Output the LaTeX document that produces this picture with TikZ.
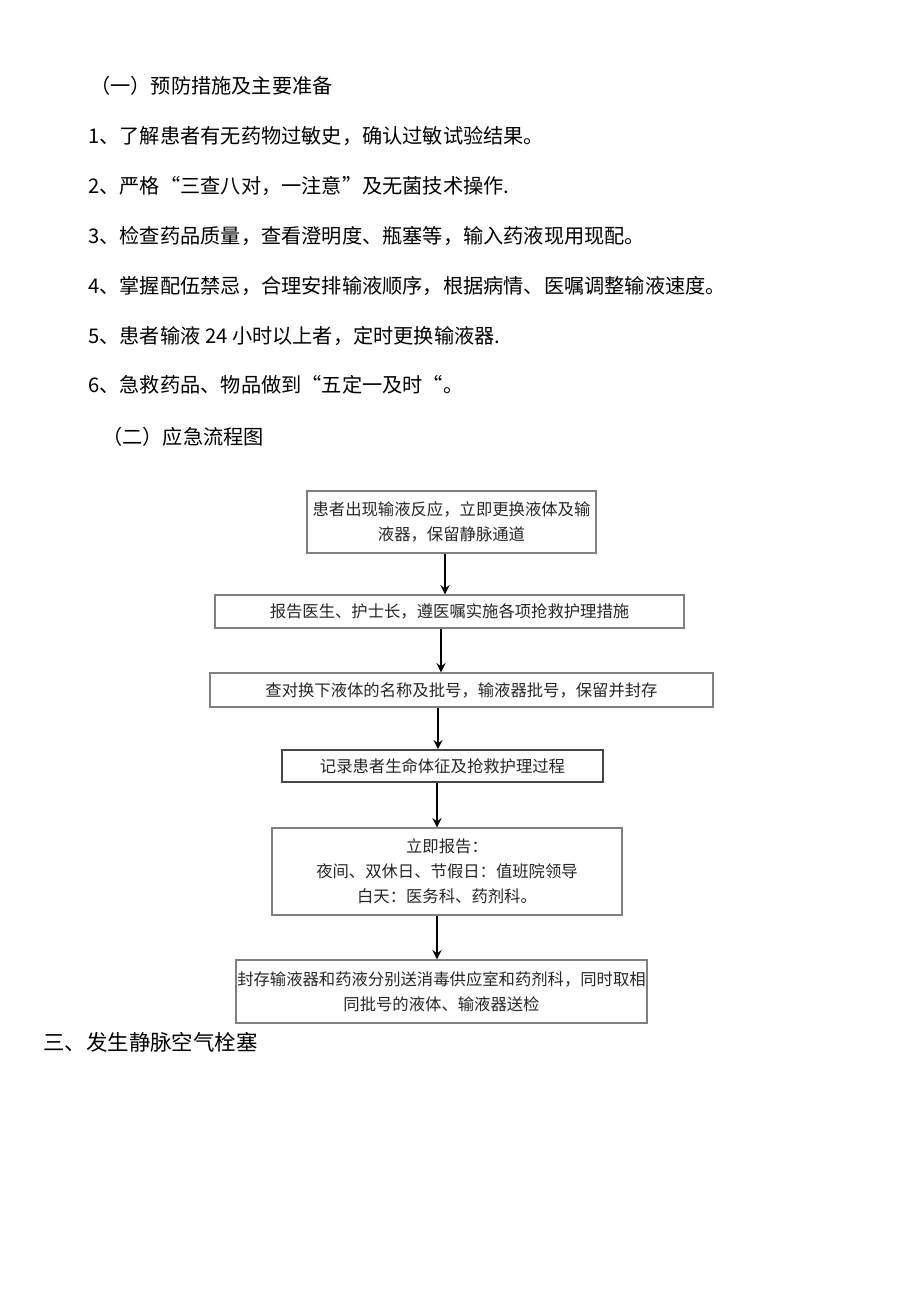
\documentclass[tikz,border=0pt]{standalone}
\usepackage{fontspec}
\setmainfont{Noto Sans CJK SC}
\usepackage{tikz}
\usepackage{xcolor}
\definecolor{boxgray}{RGB}{128,128,128}
\definecolor{boxdark}{RGB}{70,70,70}
\tikzset{%
    para/.style={anchor=west, inner sep=0pt, font=\fontsize{11.5pt}{13pt}\selectfont},
    stepbox/.style={draw=boxgray, line width=0.8pt, inner sep=0pt, align=center,
        text=black!85, font=\fontsize{9.3pt}{14.2pt}\selectfont},
    flow/.style={->, >=stealth, line width=1.3pt}
}

\begin{document}
\begin{tikzpicture}[x=0.02cm, y=-0.02cm]
    \useasboundingbox (0,0) rectangle (920,1301);
    \node[para] (h1) at (90,86) {（一）预防措施及主要准备};
    \node[para] (p1) at (88,136) {1、了解患者有无药物过敏史，确认过敏试验结果。};
    \node[para] (p2) at (88,186) {2、严格“三查八对，一注意”及无菌技术操作.};
    \node[para] (p3) at (88,236) {3、检查药品质量，查看澄明度、瓶塞等，输入药液现用现配。};
    \node[para] (p4) at (88,286) {4、掌握配伍禁忌，合理安排输液顺序，根据病情、医嘱调整输液速度。};
    \node[para] (p5) at (88,336) {5、患者输液 24 小时以上者，定时更换输液器.};
    \node[para] (p6) at (88,385) {6、急救药品、物品做到“五定一及时“。};
    \node[para] (h2) at (102,437) {（二）应急流程图};
    % flow chart
    \node[stepbox, minimum width=5.78cm, minimum height=1.24cm] (b1) at (451.5,522)
        {患者出现输液反应，立即更换液体及输\\液器，保留静脉通道};
    \node[stepbox, minimum width=9.38cm, minimum height=0.66cm] (b2) at (449.5,611.5)
        {报告医生、护士长，遵医嘱实施各项抢救护理措施};
    \node[stepbox, minimum width=10.06cm, minimum height=0.68cm] (b3) at (461.5,690)
        {查对换下液体的名称及批号，输液器批号，保留并封存};
    \node[stepbox, draw=boxdark, line width=1pt, minimum width=6.42cm, minimum height=0.64cm] (b4) at (442.5,766)
        {记录患者生命体征及抢救护理过程};
    \node[stepbox, minimum width=7cm, minimum height=1.74cm] (b5) at (447,871.5)
        {立即报告：\\夜间、双休日、节假日：值班院领导\\白天：医务科、药剂科。};
    \node[stepbox, minimum width=8.22cm, minimum height=1.26cm] (b6) at (441.5,991.5)
        {封存输液器和药液分别送消毒供应室和药剂科，同时取相\\同批号的液体、输液器送检};
    \coordinate (a1) at (445,0);
    \coordinate (a2) at (441,0);
    \coordinate (a3) at (438,0);
    \coordinate (a4) at (437,0);
    \draw[flow] (b1.south -| a1) -- (b2.north -| a1);
    \draw[flow] (b2.south -| a2) -- (b3.north -| a2);
    \draw[flow] (b3.south -| a3) -- (b4.north -| a3);
    \draw[flow] (b4.south -| a4) -- (b5.north -| a4);
    \draw[flow] (b5.south -| a4) -- (b6.north -| a4);
    \node[anchor=west, inner sep=0pt, font=\fontsize{12.2pt}{14pt}\selectfont] (h3) at (43,1042) {三、发生静脉空气栓塞};
\end{tikzpicture}
\end{document}
